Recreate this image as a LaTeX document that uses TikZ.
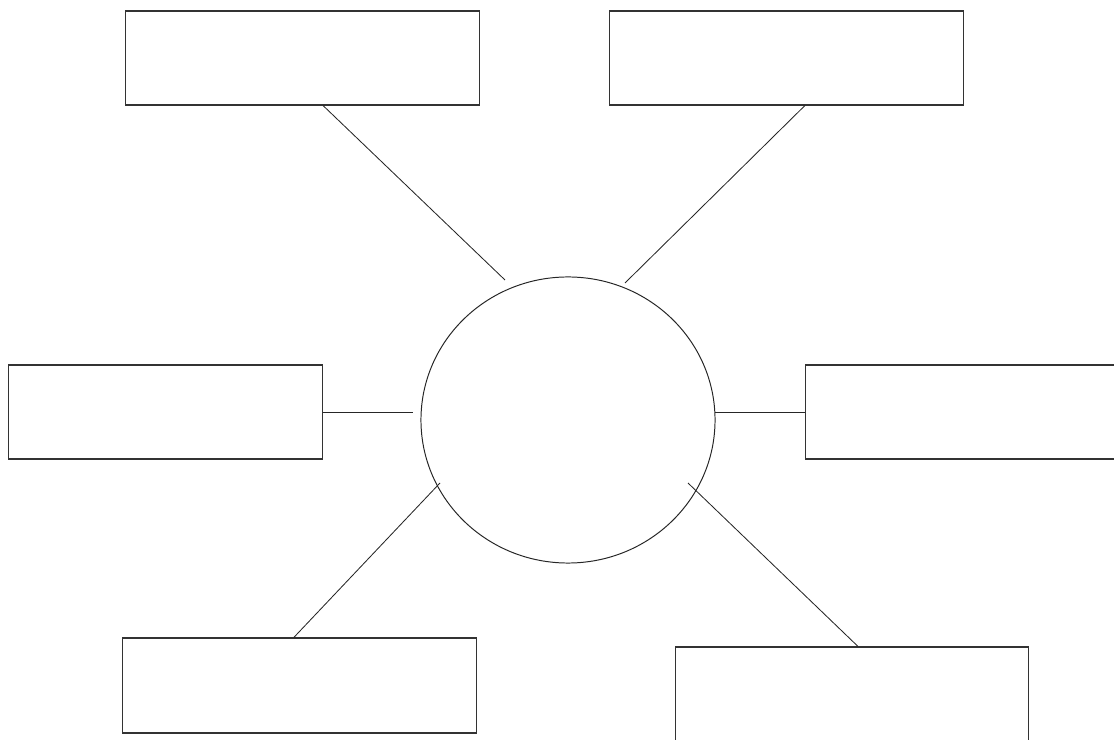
\documentclass[tikz,border=0pt]{standalone}
\usetikzlibrary{shapes.geometric,calc}
\tikzset{
  box/.style={draw=black!80,line width=0.75pt,minimum width=8.825cm,minimum height=2.35cm,inner sep=0pt},
  hubcirc/.style={draw=black!85,ellipse,line width=0.7pt,minimum width=7.35cm,minimum height=7.15cm,inner sep=0pt},
  spoke/.style={draw=black!85,line width=0.6pt},
}
\begin{document}
\begin{tikzpicture}[x=0.025cm,y=-0.025cm]
\useasboundingbox (0,0) rectangle (1114,740);

% centre
\node[hubcirc] (hub) at (568,420) {};

% boxes
\node[box] (tl) at (302.5,58) {};
\node[box] (tr) at (786.5,58) {};
\node[box, minimum width=7.825cm] (l) at (165.5,412) {};
\node[box, minimum width=7.85cm] (r) at (963,412) {};
\node[box, minimum height=2.375cm] (bl) at (299.5,685.5) {};
\node[box, minimum width=8.8cm, minimum height=2.45cm] (br) at (852,696) {};

% free ends near the circle
\coordinate (tlend) at (505,280);
\coordinate (trend) at (625,283);
\coordinate (lend) at (413,412);
\coordinate (rend) at (715,412);
\coordinate (blend) at (440,483);
\coordinate (brend) at (688,483);

% spokes
\draw[spoke] ($(tl.south west)!0.558!(tl.south east)$) -- (tlend);
\draw[spoke] ($(tr.south west)!0.552!(tr.south east)$) -- (trend);
\draw[spoke] (l.east) -- (lend);
\draw[spoke] (rend) -- (r.west);
\draw[spoke] ($(bl.north west)!0.484!(bl.north east)$) -- (blend);
\draw[spoke] ($(br.north west)!0.517!(br.north east)$) -- (brend);

\end{tikzpicture}
\end{document}
